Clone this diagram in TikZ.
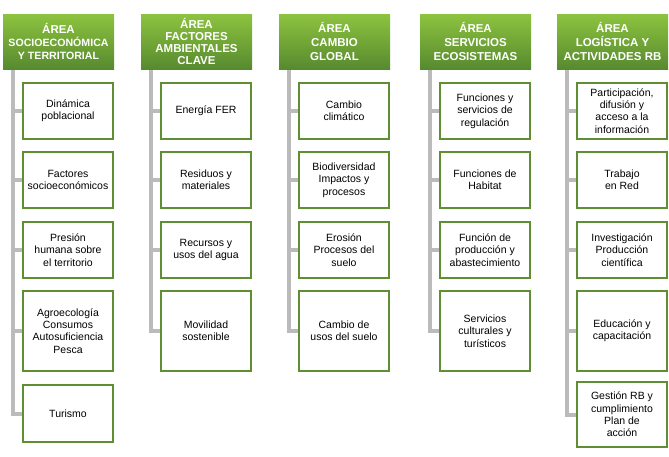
\documentclass[tikz,border=0pt]{standalone}
\usepackage{fontspec}
\setmainfont{Liberation Sans}
\usepackage{tikz}
\usetikzlibrary{backgrounds}

\definecolor{hdrtop}{HTML}{8DC33F}
\definecolor{hdrbot}{HTML}{578A2F}
\definecolor{itemline}{HTML}{5E8F32}
\definecolor{trunkgray}{HTML}{BBBBBB}

\begin{document}
\begin{tikzpicture}[x=1pt,y=-1pt,
  hdr/.style={rectangle,inner sep=0pt,minimum width=111pt,minimum height=55pt,
    top color=hdrtop,bottom color=hdrbot,draw=none,text=white,align=center,
    font=\fontsize{11.5}{14}\selectfont\bfseries},
  item/.style={rectangle,draw=itemline,line width=2pt,fill=white,inner sep=0pt,
    minimum width=90pt,align=center,font=\fontsize{10.5}{12.3}\selectfont},
  trunk/.style={draw=trunkgray,line width=4pt}]
  \useasboundingbox (0,0) rectangle (669,456);
  % column 1: socioeconomic and territorial area
  \begin{scope}[xshift=3pt]
    \node[hdr] (h1) at (55.5,41.5) {ÁREA\\[-1pt]{\fontsize{10.6}{14}\selectfont SOCIOECONÓMICA}\\[-1pt]{\fontsize{10.6}{14}\selectfont Y TERRITORIAL}};
    \coordinate (t1) at (10,69);
    \node[item,minimum height=56pt] (a1) at (65,111) {Dinámica\\poblacional};
    \node[item,minimum height=56pt] (a2) at (65,180) {Factores\\socioeconómicos};
    \node[item,minimum height=56pt] (a3) at (65,250) {Presión\\humana sobre\\el territorio};
    \node[item,minimum height=80pt] (a4) at (65,331) {Agroecología\\Consumos\\Autosuficiencia\\Pesca};
    \node[item,minimum height=57pt] (a5) at (65,413.5) {Turismo};
  \end{scope}
  % column 2: key environmental factors
  \begin{scope}[xshift=141pt]
    \node[hdr,font=\fontsize{11.5}{12}\selectfont\bfseries] (h2) at (55.5,41.5) {ÁREA\\FACTORES\\AMBIENTALES\\CLAVE};
    \coordinate (t2) at (10,69);
    \node[item,minimum height=56pt] (b1) at (65,111) {Energía FER};
    \node[item,minimum height=56pt] (b2) at (65,180) {Residuos y\\materiales};
    \node[item,minimum height=56pt] (b3) at (65,250) {Recursos y\\usos del agua};
    \node[item,minimum height=80pt] (b4) at (65,331) {Movilidad\\sostenible};
  \end{scope}
  % column 3: global change
  \begin{scope}[xshift=279pt]
    \node[hdr] (h3) at (55.5,41.5) {ÁREA\\CAMBIO\\GLOBAL};
    \coordinate (t3) at (10,69);
    \node[item,minimum height=56pt] (c1) at (65,111) {Cambio\\climático};
    \node[item,minimum height=56pt] (c2) at (65,180) {Biodiversidad\\Impactos y\\procesos};
    \node[item,minimum height=56pt] (c3) at (65,250) {Erosión\\Procesos del\\suelo};
    \node[item,minimum height=80pt] (c4) at (65,331) {Cambio de\\usos del suelo};
  \end{scope}
  % column 4: ecosystem services
  \begin{scope}[xshift=420pt]
    \node[hdr] (h4) at (55.5,41.5) {ÁREA\\SERVICIOS\\ECOSISTEMAS};
    \coordinate (t4) at (10,69);
    \node[item,minimum height=56pt] (d1) at (65,111) {Funciones y\\servicios de\\regulación};
    \node[item,minimum height=56pt] (d2) at (65,180) {Funciones de\\Habitat};
    \node[item,minimum height=56pt] (d3) at (65,250) {Función de\\producción y\\abastecimiento};
    \node[item,minimum height=80pt] (d4) at (65,331) {Servicios\\culturales y\\turísticos};
  \end{scope}
  % column 5: logistics and RB activities
  \begin{scope}[xshift=557pt]
    \node[hdr] (h5) at (55.5,41.5) {ÁREA\\LOGÍSTICA Y\\ACTIVIDADES RB};
    \coordinate (t5) at (10,69);
    \node[item,minimum height=56pt] (e1) at (65,111) {Participación,\\difusión y\\acceso a la\\información};
    \node[item,minimum height=56pt] (e2) at (65,180) {Trabajo\\en Red};
    \node[item,minimum height=56pt] (e3) at (65,250) {Investigación\\Producción\\científica};
    \node[item,minimum height=80pt] (e4) at (65,331) {Educación y\\capacitación};
    \node[item,minimum height=65pt] (e5) at (65,414.5) {Gestión RB y\\cumplimiento\\Plan de\\acción};
  \end{scope}
  % grey trunks and branches, behind the boxes
  \begin{scope}[on background layer]
    \draw[trunk] (t1) |- (a5.west);
    \foreach \n in {a1,a2,a3,a4} \draw[trunk] (t1 |- \n.west) -- (\n.west);
    \draw[trunk] (t2) |- (b4.west);
    \foreach \n in {b1,b2,b3} \draw[trunk] (t2 |- \n.west) -- (\n.west);
    \draw[trunk] (t3) |- (c4.west);
    \foreach \n in {c1,c2,c3} \draw[trunk] (t3 |- \n.west) -- (\n.west);
    \draw[trunk] (t4) |- (d4.west);
    \foreach \n in {d1,d2,d3} \draw[trunk] (t4 |- \n.west) -- (\n.west);
    \draw[trunk] (t5) |- (e5.west);
    \foreach \n in {e1,e2,e3,e4} \draw[trunk] (t5 |- \n.west) -- (\n.west);
  \end{scope}
\end{tikzpicture}
\end{document}
